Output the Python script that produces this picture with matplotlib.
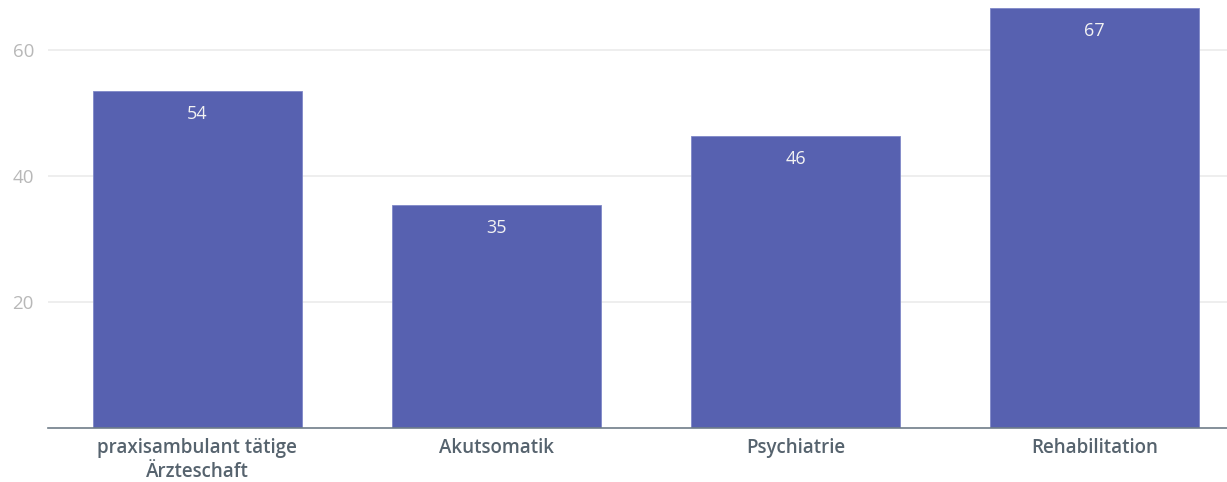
import matplotlib.pyplot as plt
import numpy as np

categories = ['praxisambulant tätige\nÄrzteschaft', 'Akutsomatik', 'Psychiatrie', 'Rehabilitation']
values = [53.5, 35.3, 46.3, 66.6]
yticks = [20, 40, 60]

plt.rcParams['font.family'] = ['Open Sans', 'DejaVu Sans']

fig = plt.figure(figsize=(12.27, 4.82), dpi=100)
ax = fig.add_axes([0.039, 0.112, 0.961, 0.888])

x = np.arange(len(categories))
bars = ax.bar(x, values, width=0.7, color='#5761b0', edgecolor='#7f88c8', linewidth=0.6, zorder=2)

for b, v in zip(bars, values):
    ax.annotate(f'{v:.0f}', (b.get_x() + b.get_width() / 2, v), xytext=(0, -10),
                textcoords='offset points', ha='center', va='top',
                color='#f2f2f2', fontsize=13, fontweight='medium')

ax.set_xlim(-0.5, 3.443)
ax.set_ylim(0, 67.9)
ax.set_xticks(x)
ax.set_xticklabels(categories, fontsize=13.5, color='#56636e', linespacing=1.3,
                   fontweight='semibold')
ax.set_yticks(yticks)
ax.set_yticklabels([str(t) for t in yticks], fontsize=13.5, color='#b8b8b8')
ax.tick_params(axis='both', length=0)
ax.tick_params(axis='x', pad=7)
ax.tick_params(axis='y', pad=10)

ax.grid(axis='y', color='#ebebeb', linewidth=1.2, zorder=0)
for s in ['top', 'right', 'left']:
    ax.spines[s].set_visible(False)
ax.spines['bottom'].set_color('#6f7d89')
ax.spines['bottom'].set_linewidth(1.2)
ax.spines['bottom'].set_zorder(3)

fig.savefig('out.png', dpi=100)
